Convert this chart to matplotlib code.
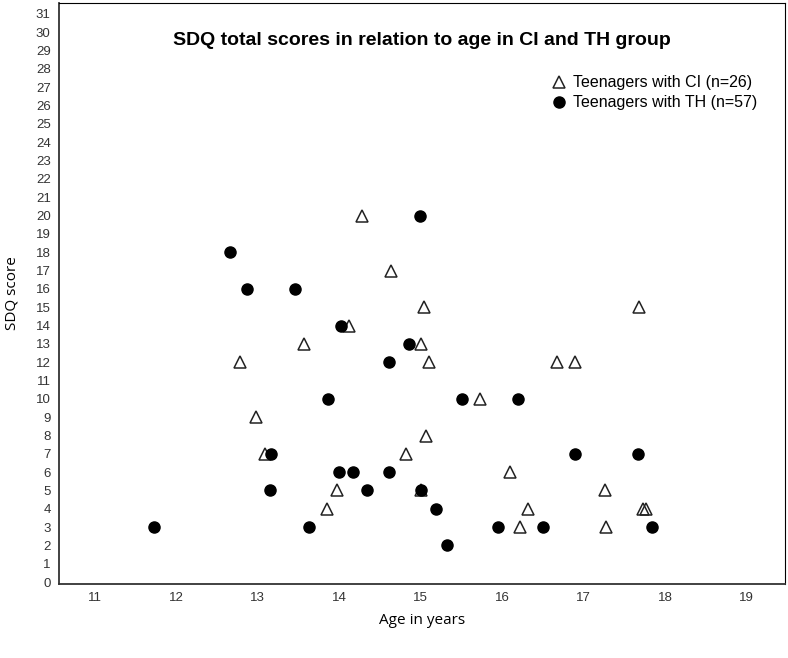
"""
SDQ total scores against age, CI and TH teenagers
"""
import numpy as np
import matplotlib.pyplot as plt


# Teenagers with CI (open triangles)
ci_age = [12.78, 12.98, 13.09, 13.57, 13.85, 13.97, 14.12, 14.28, 14.63, 14.82,
          15.00, 15.00, 15.04, 15.07, 15.10, 15.73, 16.09, 16.22, 16.32, 16.67,
          16.89, 17.26, 17.27, 17.68, 17.73, 17.77]
ci_sdq = [12, 9, 7, 13, 4, 5, 14, 20, 17, 7,
          13, 5, 15, 8, 12, 10, 6, 3, 4, 12,
          12, 5, 3, 15, 4, 4]

# Teenagers with TH (filled circles)
th_age = [11.73, 12.66, 12.87, 13.15, 13.16, 13.46, 13.63, 13.86, 14.00, 14.02,
          14.17, 14.34, 14.61, 14.61, 14.86, 14.99, 15.00, 15.19, 15.32, 15.51,
          15.95, 16.19, 16.50, 16.89, 17.67, 17.84]
th_sdq = [3, 18, 16, 5, 7, 16, 3, 10, 6, 14,
          6, 5, 12, 6, 13, 20, 5, 4, 2, 10,
          3, 10, 3, 7, 7, 3]

x_ticks = list(range(11, 20))
y_ticks = list(range(0, 32))

fig = plt.figure(figsize=(7.88, 6.58), dpi=100)
ax = fig.add_axes([0.0749, 0.1125, 0.9213, 0.883])

ax.plot(ci_age, ci_sdq, linestyle='none', marker='^', markersize=8.5,
        markerfacecolor='none', markeredgecolor='#222222', markeredgewidth=1.1,
        label='Teenagers with CI (n=26)')
ax.plot(th_age, th_sdq, linestyle='none', marker='o', markersize=8,
        markerfacecolor='black', markeredgecolor='black',
        label='Teenagers with TH (n=57)')

ax.set_xlim(10.56, 19.47)
ax.set_ylim(-0.1, 31.6)
ax.set_xticks(x_ticks)
ax.set_yticks(y_ticks)
ax.tick_params(length=0, labelsize=9.5, labelcolor='#333333', pad=6)
for lab in ax.get_xticklabels() + ax.get_yticklabels():
    lab.set_family('Liberation Sans')

for side in ['top', 'right']:
    ax.spines[side].set_linewidth(0.8)
for side in ['left', 'bottom']:
    ax.spines[side].set_linewidth(1.3)
    ax.spines[side].set_color('#333333')

# title sits inside the plot box
ax.text(0.5, 0.936, 'SDQ total scores in relation to age in CI and TH group',
        transform=ax.transAxes, ha='center', va='center',
        family='Liberation Sans', fontweight='bold', fontsize=14)

ax.set_xlabel('Age in years', family='Open Sans', fontsize=11, labelpad=6)
ax.set_ylabel('SDQ score', family='Open Sans', fontsize=11, labelpad=12)

ax.legend(loc='upper left', bbox_to_anchor=(0.658, 0.90), frameon=False,
          handletextpad=0.35, handlelength=1.0, labelspacing=0.3,
          prop={'family': 'Liberation Sans', 'size': 11.5})

fig.savefig('out.png', dpi=100)
